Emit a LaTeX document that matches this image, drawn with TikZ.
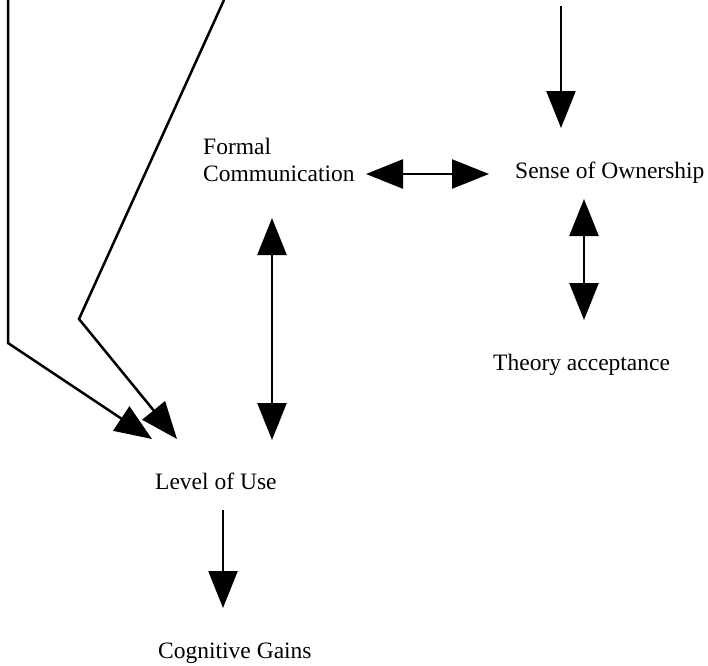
\documentclass[tikz,border=0pt]{standalone}
\usepackage{fontspec}
\setmainfont{Liberation Serif}
\usetikzlibrary{arrows.meta}
\begin{document}
\begin{tikzpicture}[x=1pt,y=-1pt,
  label/.style={anchor=base west,inner sep=0pt,font=\fontsize{23.5}{27}\selectfont},
  head/.tip={Triangle[length=37pt,width=29pt]},
  link/.style={line width=2.5pt,-head},
  both/.style={line width=2.5pt,head-head}]
\useasboundingbox (0,0) rectangle (708,665);

% concept labels
\node[label] (formal) at (203,154) {Formal};
\node[label] (comm)   at (203,181) {Communication};
\node[label] (own)    at (515,178) {Sense of Ownership};
\node[label] (theory) at (493,370) {Theory acceptance};
\node[label] (use)    at (155,489) {Level of Use};
\node[label] (gains)  at (158,658) {Cognitive Gains};

% arrow end points
\coordinate (ownIn)    at (561,6);
\coordinate (ownTip)   at (561,128);
\coordinate (commR)    at (366,174);
\coordinate (ownL)     at (489,174);
\coordinate (ownB)     at (584,199);
\coordinate (theoryT)  at (584,320);
\coordinate (commB)    at (272,218);
\coordinate (useT)     at (272,440);
\coordinate (useB)     at (223,510);
\coordinate (gainsT)   at (223,608);
\coordinate (leftTop)  at (8,0);
\coordinate (leftBend) at (8,343);
\coordinate (leftTip)  at (152,439);
\coordinate (midTop)   at (224,0);
\coordinate (midBend)  at (79,319);
\coordinate (midTip)   at (177,439);

% connectors
\draw[link] (ownIn) -- (ownTip);
\draw[both] (commR) -- (ownL);
\draw[both] (ownB) -- (theoryT);
\draw[both] (commB) -- (useT);
\draw[link] (useB) -- (gainsT);
\draw[link] (leftTop) -- (leftBend) -- (leftTip);
\draw[link] (midTop) -- (midBend) -- (midTip);
\end{tikzpicture}
\end{document}
